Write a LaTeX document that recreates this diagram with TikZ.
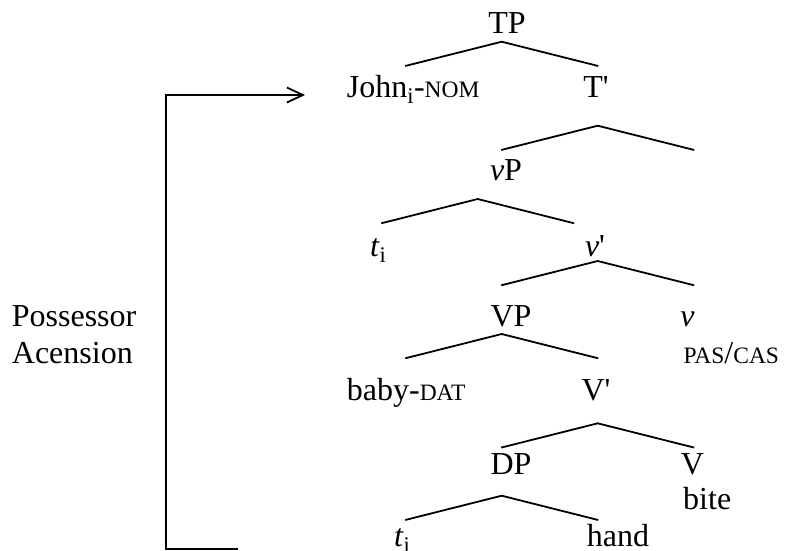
\documentclass[tikz,border=0pt]{standalone}
\usepackage{fontspec}
\setmainfont{Liberation Serif}
\usetikzlibrary{arrows.meta}
\newcommand{\smc}[1]{{\fontsize{23.5}{23.5}\selectfont #1}}
\newcommand{\subi}{\textsubscript{i}}
\newcommand{\barmark}{\textquotesingle}
\begin{document}
\begin{tikzpicture}[x=1pt,y=-1pt,
  lbl/.style={inner sep=0pt, anchor=base, font=\fontsize{32}{36}\selectfont},
  lblw/.style={lbl, anchor=base west},
  branch/.style={line width=1.8pt},
  movearrow/.style={line width=1.8pt, -{Straight Barb[length=16pt,width=15pt]}}]
\useasboundingbox (0,0) rectangle (787,550);

% labels
\node[lbl]  (TP)   at (507,33)    {TP};
\node[lblw] (John) at (346.7,97)  {John\subi-\smc{NOM}};
\node[lbl]  (Tbar) at (596,97)    {T\barmark};
\node[lbl]  (vP)   at (506,180)   {\textit{v}P};
\node[lblw] (t1)   at (370,256)   {\textit{t}\subi};
\node[lbl]  (vbar) at (595,256)   {\textit{v}\barmark};
\node[lbl]  (VP)   at (511,326.7) {VP};
\node[lbl]  (vhead) at (687.5,326.7) {\textit{v}};
\node[lblw] (pas)  at (683.3,363) {\smc{PAS}/\smc{CAS}};
\node[lblw] (baby) at (346.7,400) {baby-\smc{DAT}};
\node[lbl]  (Vbar) at (596,400)   {V\barmark};
\node[lbl]  (DP)   at (511,474)   {DP};
\node[lbl]  (V)    at (692.5,474) {V};
\node[lblw] (bite) at (683,509)   {bite};
\node[lblw] (t2)   at (394,546.7) {\textit{t}\subi};
\node[lblw] (hand) at (586.7,546.7) {hand};
\node[lblw] (poss) at (11.7,326.7) {Possessor};
\node[lblw] (acen) at (11.7,363.3) {Acension};

% branch points
\foreach \n/\x/\y in {TPa/501.7/41.7, Ta/597.7/125.7, vPa/477.7/199, va/597.7/261,
                      VPa/501.7/334, Va/597.7/423.3, DPa/501.7/495.7} {
  \coordinate (\n) at (\x,\y);
  \coordinate (\n l) at (\x-96.5,\y+24.3);
  \coordinate (\n r) at (\x+96.5,\y+24.3);
  \draw[branch] (\n l) -- (\n) -- (\n r);
}

% movement bracket
\coordinate (bstart) at (238.3,549);
\coordinate (bcorner1) at (165.7,549);
\coordinate (bcorner2) at (165.7,95);
\coordinate (bend) at (305,95);
\draw[movearrow] (bstart) -- (bcorner1) -- (bcorner2) -- (bend);
\end{tikzpicture}
\end{document}
